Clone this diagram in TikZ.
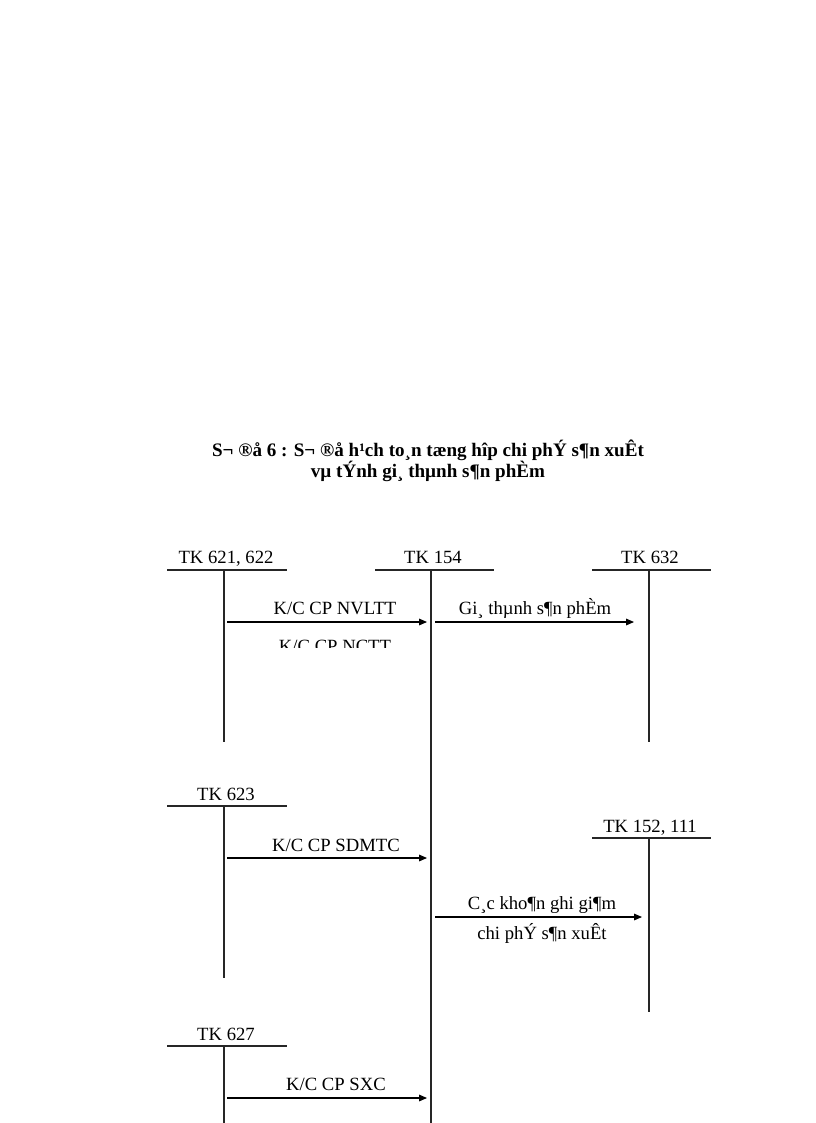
\documentclass[tikz,border=0pt]{standalone}
\usepackage{fontspec}
\setmainfont{Liberation Serif}
\usetikzlibrary{arrows.meta}
\begin{document}
\begin{tikzpicture}[x=0.75pt,y=-0.75pt,
  lbl/.style={font=\fontsize{14pt}{16pt}\selectfont,inner sep=0pt,anchor=base},
  ttl/.style={font=\bfseries\fontsize{14.3pt}{16pt}\selectfont,inner sep=0pt,anchor=base},
  ln/.style={line width=0.8pt,draw=black!85},
  arr/.style={line width=0.8pt,-{Triangle[length=6pt,width=5pt]}}]
\useasboundingbox (0,0) rectangle (816,1123);
\node[ttl] (t1) at (428,456) {S¬ ®å 6 : S¬ ®å h¹ch to¸n tæng hîp chi phÝ s¶n xuÊt};
\node[ttl] (t2) at (428,477) {vµ tÝnh gi¸ thµnh s¶n phÈm};
% accounts
\node[lbl] (a1) at (226,563) {TK 621, 622};
\draw[ln] (167,570) -- (287,570); \coordinate (a1t) at (224,570); \coordinate (a1b) at (224,742); \draw[ln] (a1t)--(a1b);
\node[lbl] (a2) at (433,563) {TK 154};
\draw[ln] (375,570) -- (494,570); \coordinate (a2t) at (431,570); \coordinate (a2b) at (431,1123); \draw[ln] (a2t)--(a2b);
\node[lbl] (a3) at (650,563) {TK 632};
\draw[ln] (592,570) -- (711,570); \coordinate (a3t) at (649,570); \coordinate (a3b) at (649,742); \draw[ln] (a3t)--(a3b);
\node[lbl] (a4) at (226,800) {TK 623};
\draw[ln] (167,806) -- (287,806); \coordinate (a4t) at (224,806); \coordinate (a4b) at (224,978); \draw[ln] (a4t)--(a4b);
\node[lbl] (a5) at (650,832) {TK 152, 111};
\draw[ln] (592,838) -- (711,838); \coordinate (a5t) at (649,838); \coordinate (a5b) at (649,1012); \draw[ln] (a5t)--(a5b);
\node[lbl] (a6) at (226,1040) {TK 627};
\draw[ln] (167,1046) -- (287,1046); \coordinate (a6t) at (224,1046); \coordinate (a6b) at (224,1123); \draw[ln] (a6t)--(a6b);
% arrows
\coordinate (s1) at (227,622); \coordinate (e1) at (427,622);
\draw[arr] (s1) -- (e1);
\node[lbl] (l1) at (335,614) {K/C CP NVLTT};
\begin{scope}
\clip (250,630) rectangle (420,647);
\node[lbl] (l2) at (335,652) {K/C CP NCTT};
\end{scope}
\coordinate (s2) at (435,622); \coordinate (e2) at (634,622);
\draw[arr] (s2) -- (e2);
\node[lbl] (l3) at (535,614) {Gi¸ thµnh s¶n phÈm};
\coordinate (s3) at (227,858); \coordinate (e3) at (427,858);
\draw[arr] (s3) -- (e3);
\node[lbl] (l4) at (336,851) {K/C CP SDMTC};
\coordinate (s4) at (435,917); \coordinate (e4) at (642,917);
\draw[arr] (s4) -- (e4);
\node[lbl] (l5) at (542,909) {C¸c kho¶n ghi  gi¶m};
\node[lbl] (l6) at (542,939) {chi phÝ s¶n xuÊt};
\coordinate (s5) at (227,1098); \coordinate (e5) at (427,1098);
\draw[arr] (s5) -- (e5);
\node[lbl] (l7) at (336,1090) {K/C CP SXC};
\end{tikzpicture}
\end{document}
